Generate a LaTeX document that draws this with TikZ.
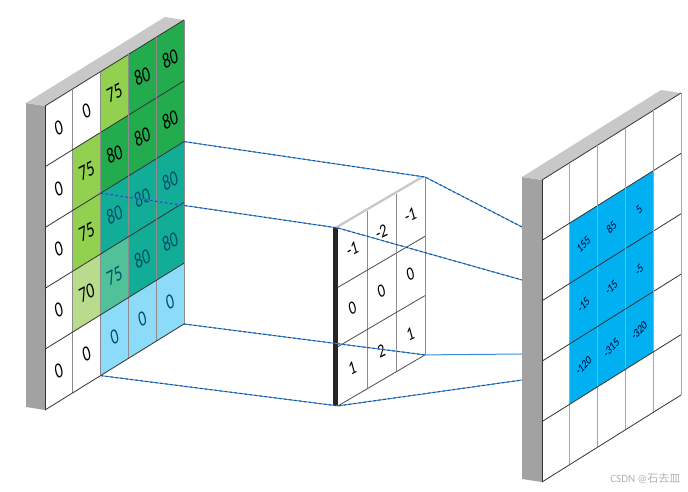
\documentclass[tikz,border=0pt]{standalone}
\usepackage{fontspec}
\setmainfont{Carlito}
\newfontfamily\cjkfont{Noto Sans CJK SC}

\definecolor{darkgreen}{RGB}{34,172,78}
\definecolor{lightgreen}{RGB}{146,208,80}
\definecolor{palegreen}{RGB}{184,220,140}
\definecolor{areablue}{RGB}{0,176,240}
\definecolor{slabside}{RGB}{162,162,162}
\definecolor{slabtop}{RGB}{200,200,200}
\definecolor{linkblue}{RGB}{60,140,210}
\definecolor{linkdark}{RGB}{25,80,160}

\begin{document}
\begin{tikzpicture}[x=1pt,y=-1pt,
  cellnum/.style={inner sep=0pt,xscale=0.7,rotate=20,font=\fontsize{22}{22}\selectfont},
  kernnum/.style={inner sep=0pt,xscale=0.75,rotate=20,font=\fontsize{19}{19}\selectfont},
  outnum/.style={inner sep=0pt,xscale=0.75,rotate=40,font=\fontsize{12.5}{12.5}\selectfont,text=black!80!blue},
  vline/.style={draw=black!45,line width=0.8pt},
  hline/.style={draw=black!80,line width=0.8pt},
  link/.style={draw=linkblue,line width=1pt,postaction={draw=linkdark,line width=1pt,dash pattern=on 2.5pt off 2.5pt}}]

\useasboundingbox (0,0) rectangle (688,492);

% input image
\begin{scope}[shift={(45,106)},x={(27.8pt,17.2pt)},y={(0pt,-60.8pt)}]
\fill[slabside] (0,0) -- (0,5) -- ++(-19pt,3pt) -- ++(0,-5) -- cycle;
\fill[slabtop] (0,0) -- (5,0) -- ++(-19pt,3pt) -- ++(-5,0) -- cycle;
\foreach \r/\c/\v/\f in {0/0/0/white, 0/1/0/white, 0/2/75/lightgreen, 0/3/80/darkgreen, 0/4/80/darkgreen,
  1/0/0/white, 1/1/75/lightgreen, 1/2/80/darkgreen, 1/3/80/darkgreen, 1/4/80/darkgreen,
  2/0/0/white, 2/1/75/lightgreen, 2/2/80/darkgreen, 2/3/80/darkgreen, 2/4/80/darkgreen,
  3/0/0/white, 3/1/70/palegreen, 3/2/75/lightgreen, 3/3/80/darkgreen, 3/4/80/darkgreen,
  4/0/0/white, 4/1/0/white, 4/2/0/white, 4/3/0/white, 4/4/0/white}
{
  \fill[\f] (\c,\r) -- ++(1,0) -- ++(0,1) -- ++(-1,0) -- cycle;
  \node[cellnum] (in-\r-\c) at (\c+0.5,\r+0.5) {\v};
}
% area under the kernel
\fill[areablue,opacity=0.45] (2,2) -- (5,2) -- (5,5) -- (2,5) -- cycle;
\foreach \k in {0,...,5}
{
  \draw[vline] (\k,0) -- (\k,5);
  \draw[hline] (0,\k) -- (5,\k);
}
\draw[hline] (0,0) -- (0,5);
\coordinate (areaTL) at (2,2);
\coordinate (areaTR) at (5,2);
\coordinate (areaBL) at (2,5);
\coordinate (areaBR) at (5,5);
\end{scope}

% kernel
\begin{scope}[shift={(338,228)},x={(29pt,17pt)},y={(0pt,-59.3pt)}]
\fill[slabtop] (0,0) -- (3,0) -- ++(-5pt,0pt) -- ++(-3,0) -- cycle;
\fill[black!85] (0,0) -- (0,3) -- ++(-5pt,0pt) -- ++(0,-3) -- cycle;
\fill[white] (0,0) -- (3,0) -- (3,3) -- (0,3) -- cycle;
\foreach \r/\c/\v in {0/0/-1, 0/1/-2, 0/2/-1, 1/0/0, 1/1/0, 1/2/0, 2/0/1, 2/1/2, 2/2/1}
  \node[kernnum] (kern-\r-\c) at (\c+0.5,\r+0.5) {\v};
\foreach \k in {1,2,3}
{
  \draw[vline] (\k,0) -- (\k,3);
  \draw[hline,draw=black!70] (0,\k) -- (3,\k);
}
\coordinate (kernTL) at (0,0);
\coordinate (kernTR) at (3,0);
\coordinate (kernBL) at (0,3);
\coordinate (kernBR) at (3,3);
\end{scope}

% connectors
\coordinate (outA) at (522,227);
\coordinate (outB) at (522,280);
\coordinate (outC) at (522,354);
\coordinate (outD) at (522,380);
\draw[link] (areaTR) -- (kernTR) -- (outA);
\draw[link] (areaTL) -- (kernTL) -- (outB);
\draw[link] (areaBR) -- (kernBR);
\draw[linkblue,line width=1pt] (kernBR) -- (outC);
\draw[link] (areaBL) -- (kernBL) -- (outD);

% output image
\begin{scope}[shift={(542,180)},x={(27.8pt,17.4pt)},y={(0pt,-60.4pt)}]
\fill[slabside] (0,0) -- (0,5) -- ++(-20pt,3pt) -- ++(0,-5) -- cycle;
\fill[slabtop] (0,0) -- (5,0) -- ++(-20pt,3pt) -- ++(-5,0) -- cycle;
\fill[white] (0,0) -- (5,0) -- (5,5) -- (0,5) -- cycle;
\fill[areablue] (1,1) -- (4,1) -- (4,4) -- (1,4) -- cycle;
\foreach \r/\c/\v in {1/1/155, 1/2/85, 1/3/5, 2/1/-15, 2/2/-15, 2/3/-5, 3/1/-120, 3/2/-315, 3/3/-320}
  \node[outnum] (out-\r-\c) at (\c+0.5,\r+0.5) {\v};
\foreach \k in {0,...,5}
{
  \draw[vline,draw=black!35] (\k,0) -- (\k,5);
  \draw[hline] (0,\k) -- (5,\k);
}
\draw[hline] (0,0) -- (0,5);
\end{scope}

\node[anchor=east,text=black!30,font=\fontsize{11}{11}\selectfont] (mark) at (684,478) {CSDN @{\cjkfont 石去皿}};
\end{tikzpicture}
\end{document}
